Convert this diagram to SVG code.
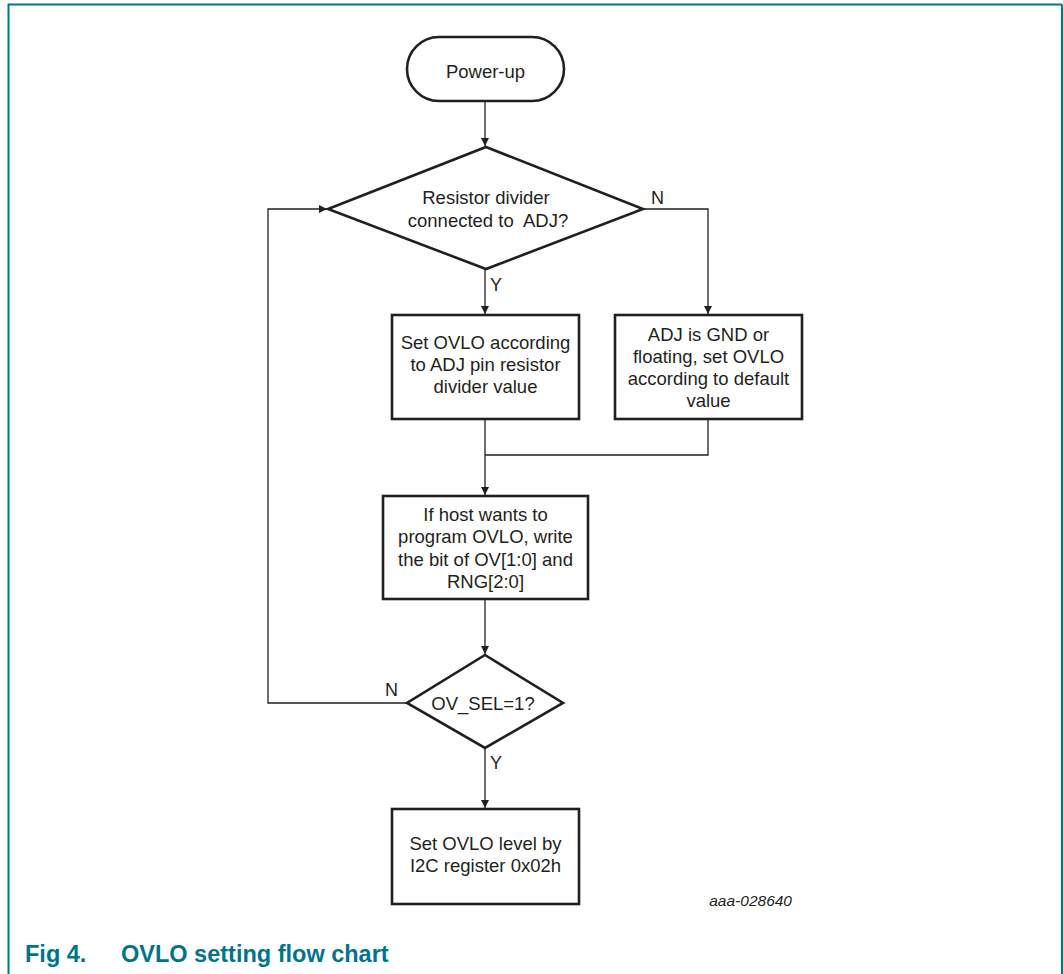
<svg xmlns="http://www.w3.org/2000/svg" width="1063" height="974" viewBox="0 0 1063 974">
<style>
.frame{fill:none;stroke:#00788a;stroke-width:2}
.node{fill:#fff;stroke:#231f20;stroke-width:2.6}
.t{font-family:"Liberation Sans",Arial,sans-serif;font-size:18.5px;fill:#231f20;text-anchor:middle}
.lbl{font-family:"Liberation Sans",Arial,sans-serif;font-size:18px;fill:#231f20}
.con{fill:none;stroke:#231f20;stroke-width:1.3}
.cap{font-family:"Liberation Sans",Arial,sans-serif;font-size:23.5px;font-weight:bold;fill:#00758a}
.id{font-family:"Liberation Sans",Arial,sans-serif;font-size:15.5px;font-style:italic;fill:#231f20;text-anchor:end}
</style>
<defs>
<marker id="arr" viewBox="0 0 10 10" refX="10" refY="5" markerWidth="8" markerHeight="8" markerUnits="userSpaceOnUse" orient="auto">
<path d="M0,0 L10,5 L0,10 Z" fill="#231f20"/>
</marker>
</defs>
<rect width="1063" height="974" fill="#fff"/>
<path class="frame" d="M8.5,974 V4.5 H1062"/>
<path class="frame" d="M1062,4.5 V974"/>
<g id="connectors">
<path class="con" d="M485,101 V146" marker-end="url(#arr)"/>
<path class="con" d="M485,269 V314" marker-end="url(#arr)"/>
<path class="con" d="M643,209 H708 V314" marker-end="url(#arr)"/>
<path class="con" d="M485,419 V495" marker-end="url(#arr)"/>
<path class="con" d="M708,419 V455 H485"/>
<path class="con" d="M485,599 V654" marker-end="url(#arr)"/>
<path class="con" d="M407,703 H268 V209 H327" marker-end="url(#arr)"/>
<path class="con" d="M485,748 V808" marker-end="url(#arr)"/>
<text class="lbl" x="651" y="204">N</text>
<text class="lbl" x="490" y="291">Y</text>
<text class="lbl" x="385" y="696">N</text>
<text class="lbl" x="490" y="769">Y</text>
</g>
<g id="powerup">
<rect class="node" x="407" y="37" width="157" height="64" rx="32" ry="32"/>
<text class="t" x="485.5" y="78">Power-up</text>
</g>
<g id="decision1">
<polygon class="node" points="486,147 643,209 486,269 328,209"/>
<text class="t" x="486" y="204">Resistor divider</text>
<text class="t" x="488" y="227" xml:space="preserve">connected to  ADJ?</text>
</g>
<g id="setAdj">
<rect class="node" x="392" y="315" width="187" height="104"/>
<text class="t" x="485.5" y="349">Set OVLO according</text>
<text class="t" x="485.5" y="371">to ADJ pin resistor</text>
<text class="t" x="485.5" y="393">divider value</text>
</g>
<g id="setDefault">
<rect class="node" x="615" y="315" width="187" height="104"/>
<text class="t" x="708.5" y="341">ADJ is GND or</text>
<text class="t" x="708.5" y="363">floating, set OVLO</text>
<text class="t" x="708.5" y="385">according to default</text>
<text class="t" x="708.5" y="407">value</text>
</g>
<g id="hostProgram">
<rect class="node" x="383" y="496" width="205" height="103"/>
<text class="t" x="485.5" y="521">If host wants to</text>
<text class="t" x="485.5" y="543">program OVLO, write</text>
<text class="t" x="485.5" y="566">the bit of OV[1:0] and</text>
<text class="t" x="485.5" y="588">RNG[2:0]</text>
</g>
<g id="decision2">
<polygon class="node" points="485,655 563,703 485,748 407,703"/>
<text class="t" x="483" y="710">OV_SEL=1?</text>
</g>
<g id="setI2C">
<rect class="node" x="392" y="809" width="187" height="95"/>
<text class="t" x="485.5" y="850">Set OVLO level by</text>
<text class="t" x="485.5" y="872">I2C register 0x02h</text>
</g>
<text class="id" x="792" y="906">aaa-028640</text>
<text class="cap" x="25" y="962">Fig 4.</text>
<text class="cap" x="121" y="962">OVLO setting flow chart</text>
</svg>
